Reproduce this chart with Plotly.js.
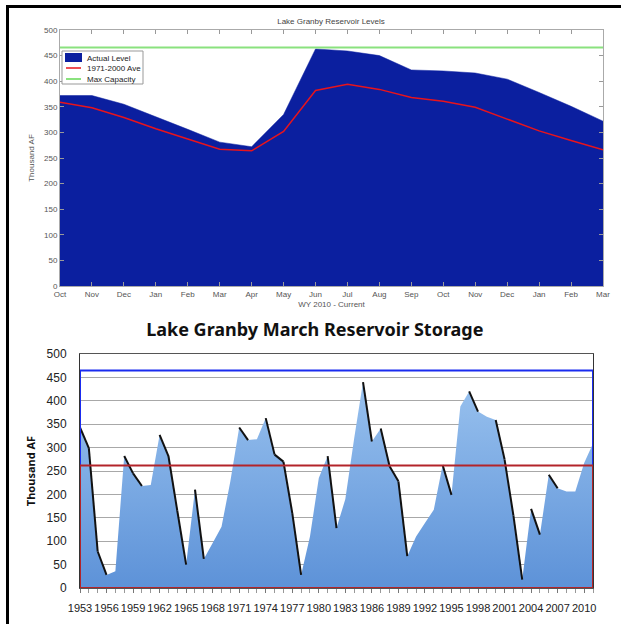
<!DOCTYPE html>
<html><head><meta charset="utf-8">
<script src="https://cdn.plot.ly/plotly-3.0.1.min.js"></script>
<style>
html,body{margin:0;padding:0;background:#fff;}
#frame{position:absolute;left:6px;top:5px;width:615px;height:619px;border-left:3px solid #000;border-top:3px solid #000;pointer-events:none;}
#top{position:absolute;left:0;top:0;width:621px;height:315px;}
#bottom{position:absolute;left:0;top:315px;width:621px;height:309px;}
</style></head><body>
<div id="top"></div><div id="bottom"></div><div id="frame"></div>
<script>
// ---------- Top chart data (WY 2010 - current) ----------
const months = ['Oct','Nov','Dec','Jan','Feb','Mar','Apr','May','Jun','Jul','Aug','Sep','Oct','Nov','Dec','Jan','Feb','Mar'];
const actualLevel = [372,372,355,331,306,281,272,335,463,459,450,422,420,416,404,378,351,322];
const average7100 = [359,348,329,307,287,267,264,302,382,394,384,368,361,349,326,303,284,266];
const maxCapacityTop = 466;
const legendNames = ['Actual Level','1971-2000 Ave','Max Capacity'];
const legendColors = ['#0b1f9f','#e8141c','#8ae27e'];

// ---------- Bottom chart data (March storage) ----------
const years = [1953,1954,1955,1956,1957,1958,1959,1960,1961,1962,1963,1964,1965,1966,1967,1968,1969,1970,
  1971,1972,1973,1974,1975,1976,1977,1978,1979,1980,1981,1982,1983,1984,1985,1986,1987,1988,1989,1990,
  1991,1992,1993,1994,1995,1996,1997,1998,1999,2000,2001,2002,2003,2004,2005,2006,2007,2008,2009,2010,2011];
const marchStorage = [343,299,78,28,36,282,245,218,220,327,282,165,50,210,62,96,131,228,
  343,316,318,363,285,270,160,28,110,235,282,128,190,320,440,313,341,260,228,68,
  110,139,167,263,199,388,420,377,366,359,275,155,18,169,114,242,213,206,206,267,309];
const declineStartYears = [1953,1954,1955,1958,1959,1962,1963,1964,1966,1971,1974,1975,1976,1977,
  1981,1985,1987,1988,1989,1994,1997,2000,2001,2002,2004,2006];
const capacityLevel = 465;
const averageLevel = 262;
const yTicksBottom = [0,50,100,150,200,250,300,350,400,450,500];

// ---------- Top chart ----------
const idx = months.map((m,i)=>i);
const topTraces = [
  {x: idx, y: actualLevel, type:'scatter', mode:'lines', name:legendNames[0],
   fill:'tozeroy', fillcolor:legendColors[0], line:{color:legendColors[0], width:0.5}},
  {x: idx, y: average7100, type:'scatter', mode:'lines', name:legendNames[1],
   line:{color:legendColors[1], width:1.5}},
  {x: idx, y: idx.map(()=>maxCapacityTop), type:'scatter', mode:'lines', name:legendNames[2],
   line:{color:legendColors[2], width:2}}
];
const smallFont = {family:'Liberation Sans, Arial, sans-serif', size:8, color:'#555'};
// compact legend drawn in paper coordinates (plot area 543 x 256 px)
const px = v => (v-60)/543, py = v => (286-v)/256;
const legShapes = [
  {type:'rect', xref:'paper', yref:'paper', x0:px(62), x1:px(143), y0:py(84), y1:py(51),
   line:{color:'#999', width:1}, fillcolor:'#fff', layer:'above'},
  {type:'rect', xref:'paper', yref:'paper', x0:px(65), x1:px(82), y0:py(62), y1:py(53),
   line:{color:legendColors[0], width:0}, fillcolor:legendColors[0], layer:'above'},
  {type:'line', xref:'paper', yref:'paper', x0:px(66), x1:px(81), y0:py(68), y1:py(68),
   line:{color:legendColors[1], width:1.5}, layer:'above'},
  {type:'line', xref:'paper', yref:'paper', x0:px(66), x1:px(81), y0:py(79), y1:py(79),
   line:{color:legendColors[2], width:2}, layer:'above'}
];
const legY = [58, 68, 79];
const legAnn = legendNames.map((n,i)=>({xref:'paper', yref:'paper', x:px(85), y:py(legY[i]),
  xanchor:'left', yanchor:'middle', text:n, showarrow:false,
  font:{family:'Liberation Sans, Arial, sans-serif', size:8, color:'#222'}}));
const topLayout = {
  width:621, height:315,
  margin:{l:60, r:18, t:30, b:29},
  paper_bgcolor:'rgba(0,0,0,0)', plot_bgcolor:'#fff',
  title:{text:'Lake Granby Reservoir Levels', font:{family:'Liberation Sans, Arial, sans-serif', size:8, color:'#444'},
         xref:'container', x:0.533, xanchor:'center', yref:'container', y:1-21/315, yanchor:'middle'},
  xaxis:{range:[0,17], tickvals:idx, ticktext:months, tickfont:smallFont,
         showgrid:false, zeroline:false, showline:true, linecolor:'#aaa', mirror:'ticks',
         ticks:'inside', ticklen:4, tickcolor:'#999',
         title:{text:'WY 2010 - Current', font:smallFont, standoff:3}},
  yaxis:{range:[0,500], dtick:50, tickfont:smallFont, showgrid:false, zeroline:false,
         showline:true, linecolor:'#aaa', mirror:'ticks', ticks:'inside', ticklen:4, tickcolor:'#999',
         title:{text:'Thousand AF', font:smallFont, standoff:8}},
  showlegend:false,
  shapes:legShapes,
  annotations:legAnn
};
Plotly.newPlot('top', topTraces, topLayout, {staticPlot:true, displayModeBar:false});

// ---------- Bottom chart ----------
const declX = [], declY = [];
declineStartYears.forEach(y => {
  const i = years.indexOf(y);
  declX.push(years[i], years[i+1], null);
  declY.push(marchStorage[i], marchStorage[i+1], null);
});
const botTraces = [
  {x: years, y: marchStorage, type:'scatter', mode:'lines', fill:'tozeroy',
   fillcolor:'#6c9fdf',
   fillgradient:{type:'vertical', colorscale:[[0,'#5d92d8'],[1,'#98c1ee']]},
   line:{width:0, color:'#6c9fdf'}, showlegend:false},
  {x: declX, y: declY, type:'scatter', mode:'lines', line:{color:'#111', width:2},
   connectgaps:false, showlegend:false}
];
const midFont = {family:'Liberation Sans, Arial, sans-serif', size:11, color:'#222'};
const botLayout = {
  width:621, height:309,
  margin:{l:80, r:28, t:39, b:36},
  paper_bgcolor:'rgba(0,0,0,0)', plot_bgcolor:'#fff',
  title:{text:'<b>Lake Granby March Reservoir Storage</b>',
         font:{family:'Noto Sans, Open Sans, sans-serif', size:18, color:'#111'},
         xref:'container', x:0.507, xanchor:'center', yref:'container', y:1-15/309, yanchor:'middle'},
  xaxis:{range:[1953,2011], tick0:1953, dtick:3, tickangle:0, tickfont:midFont, showgrid:false, zeroline:false,
         showline:true, linecolor:'#555', linewidth:1, mirror:true,
         ticks:'outside', ticklen:4, tickcolor:'#777', ticklabelstandoff:6,
         minor:{dtick:1, ticks:'outside', ticklen:4, tickcolor:'#999'}},
  yaxis:{range:[0,500], tickvals:yTicksBottom, tickfont:{family:'Liberation Sans, Arial, sans-serif', size:12, color:'#222'},
         showgrid:true, gridcolor:'#a8a8a8', gridwidth:1,
         zeroline:false, showline:true, linecolor:'#333', mirror:true, ticks:'', ticklabelstandoff:10,
         title:{text:'<b>Thousand AF</b>', font:{family:'Noto Sans, sans-serif', size:11, color:'#111'}, standoff:8}},
  shapes:[
    {type:'rect', xref:'x', yref:'y', x0:years[0], x1:years[years.length-1], y0:0, y1:capacityLevel,
     line:{color:'#1a2cf0', width:2}, fillcolor:'rgba(0,0,0,0)', layer:'above'},
    {type:'rect', xref:'x', yref:'y', x0:years[0], x1:years[years.length-1], y0:0, y1:averageLevel,
     line:{color:'#b3242a', width:2}, fillcolor:'rgba(0,0,0,0)', layer:'above'}
  ]
};
Plotly.newPlot('bottom', botTraces, botLayout, {staticPlot:true, displayModeBar:false});
</script>
</body></html>
